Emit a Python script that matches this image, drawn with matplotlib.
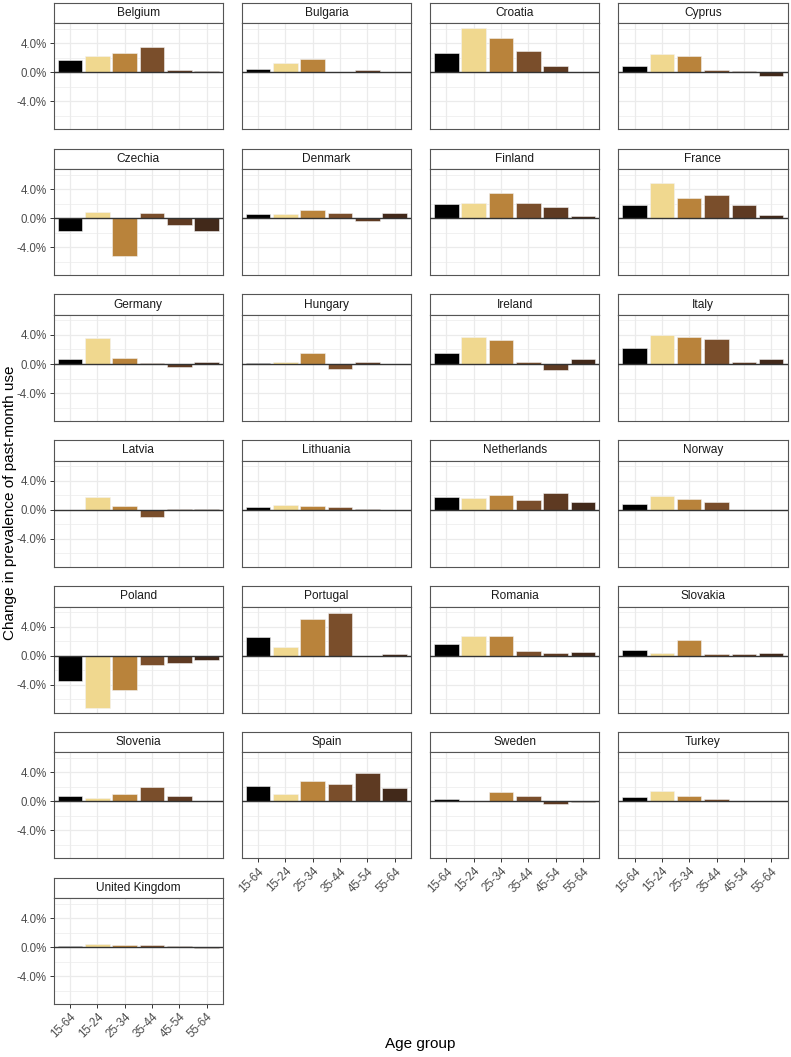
import numpy as np
import matplotlib.pyplot as plt
from matplotlib.ticker import MultipleLocator, FuncFormatter

plt.rcParams['font.family'] = ['Liberation Sans', 'DejaVu Sans']

age_groups = ['15-64', '15-24', '25-34', '35-44', '45-54', '55-64']
colours = ['#000000', '#F0D88F', '#B9833B', '#7A4E2B', '#5E3A22', '#42291A']

countries = ['Belgium', 'Bulgaria', 'Croatia', 'Cyprus',
             'Czechia', 'Denmark', 'Finland', 'France',
             'Germany', 'Hungary', 'Ireland', 'Italy',
             'Latvia', 'Lithuania', 'Netherlands', 'Norway',
             'Poland', 'Portugal', 'Romania', 'Slovakia',
             'Slovenia', 'Spain', 'Sweden', 'Turkey',
             'United Kingdom']

# change in prevalence (percentage points), one row per country, same order as age_groups
change = [
    [1.7, 2.25, 2.65, 3.45, 0.3, 0.18],      # Belgium
    [0.45, 1.33, 1.8, 0.0, 0.3, 0.1],        # Bulgaria
    [2.65, 6.1, 4.7, 2.95, 0.85, 0.0],       # Croatia
    [0.95, 2.55, 2.25, 0.28, 0.18, -0.45],   # Cyprus
    [-1.7, 0.85, -5.15, 0.78, -0.95, -1.8],  # Czechia
    [0.6, 0.62, 1.2, 0.78, -0.35, 0.68],     # Denmark
    [1.98, 2.15, 3.5, 2.1, 1.6, 0.3],        # Finland
    [1.8, 4.85, 2.8, 3.15, 1.84, 0.4],       # France
    [0.68, 3.6, 0.87, 0.12, -0.35, 0.32],    # Germany
    [0.14, 0.32, 1.56, -0.65, 0.28, 0.0],    # Hungary
    [1.56, 3.77, 3.3, 0.28, -0.85, 0.68],    # Ireland
    [2.2, 4.0, 3.77, 3.4, 0.32, 0.68],       # Italy
    [0.0, 1.8, 0.56, -1.05, 0.18, 0.05],     # Latvia
    [0.42, 0.7, 0.56, 0.42, 0.18, 0.0],      # Lithuania
    [1.72, 1.67, 2.05, 1.3, 2.33, 1.07],     # Netherlands
    [0.84, 1.95, 1.44, 1.02, 0.0, 0.0],      # Norway
    [-3.45, -7.17, -4.73, -1.33, -0.97, -0.55],  # Poland
    [2.57, 1.2, 5.05, 5.93, 0.0, 0.28],      # Portugal
    [1.66, 2.7, 2.7, 0.64, 0.37, 0.46],      # Romania
    [0.78, 0.32, 2.1, 0.18, 0.23, 0.37],     # Slovakia
    [0.74, 0.5, 1.0, 2.0, 0.74, 0.09],       # Slovenia
    [2.1, 0.97, 2.85, 2.44, 3.86, 1.8],      # Spain
    [0.37, 0.0, 1.28, 0.78, -0.32, -0.05],   # Sweden
    [0.6, 1.43, 0.78, 0.32, 0.09, 0.0],      # Turkey
    [0.23, 0.5, 0.32, 0.32, 0.23, -0.09],    # United Kingdom
]

W, H = 791, 1057
fig = plt.figure(figsize=(W / 100, H / 100), dpi=100)


def box(x0, y0, w, h):
    # pixel box (top-left origin) -> figure fraction
    return [x0 / W, 1 - (y0 + h) / H, w / W, h / H]


lo = min(min(v) for v in change)
hi = max(max(v) for v in change)
pad = 0.05 * (hi - lo)
ylim = (lo - pad, hi + pad)

ncol = 4
n = len(countries)
pw, ph, sh = 169.5, 106, 20.6
x = np.arange(len(age_groups))

for i, (name, vals) in enumerate(zip(countries, change)):
    r, c = divmod(i, ncol)
    x0 = 53.5 + 188.2 * c
    top = 2.7 + 145.8 * r

    # strip
    st = fig.add_axes(box(x0, top, pw, sh))
    st.set_xticks([]); st.set_yticks([])
    for s in st.spines.values():
        s.set_color('#555555'); s.set_linewidth(0.8)
    st.text(0.5, 0.5, name, ha='center', va='center', fontsize=8.6,
            color='#1A1A1A', transform=st.transAxes)

    ax = fig.add_axes(box(x0, top + sh, pw, ph))
    ax.bar(x, vals, width=0.9, color=colours, edgecolor='#F2F2F2',
           linewidth=0.4, zorder=2)
    ax.axhline(0, color='#333333', lw=1.0, zorder=3)
    ax.set_xlim(-0.6, len(age_groups) - 0.4)
    ax.set_ylim(ylim)
    ax.set_xticks(x)
    ax.yaxis.set_major_locator(MultipleLocator(4))
    ax.yaxis.set_minor_locator(MultipleLocator(2))
    ax.grid(which='major', color='#EBEBEB', lw=0.9)
    ax.grid(which='minor', axis='y', color='#EBEBEB', lw=0.5)
    ax.set_axisbelow(True)
    ax.tick_params(which='minor', length=0)
    ax.tick_params(which='major', length=3, color='#333333', width=0.7,
                   labelsize=8.3, labelcolor='#4D4D4D', pad=2)
    for s in ax.spines.values():
        s.set_color('#555555'); s.set_linewidth(0.8)

    if c == 0:
        ax.yaxis.set_major_formatter(FuncFormatter(lambda v, p: f'{v:.1f}%'))
    else:
        ax.tick_params(axis='y', which='major', length=0, labelleft=False)

    if i + ncol >= n:
        ax.set_xticklabels(age_groups, rotation=45, ha='right', va='top',
                           rotation_mode='anchor')
    else:
        ax.tick_params(axis='x', length=0, labelbottom=False)

fig.text(10 / W, 1 - 503 / H, 'Change in prevalence of past-month use',
         rotation=90, ha='center', va='center', fontsize=11, color='black')
fig.text(420 / W, 1 - 1044 / H, 'Age group', ha='center', va='center',
         fontsize=11, color='black')

fig.savefig('out.png', dpi=100, facecolor='white')
